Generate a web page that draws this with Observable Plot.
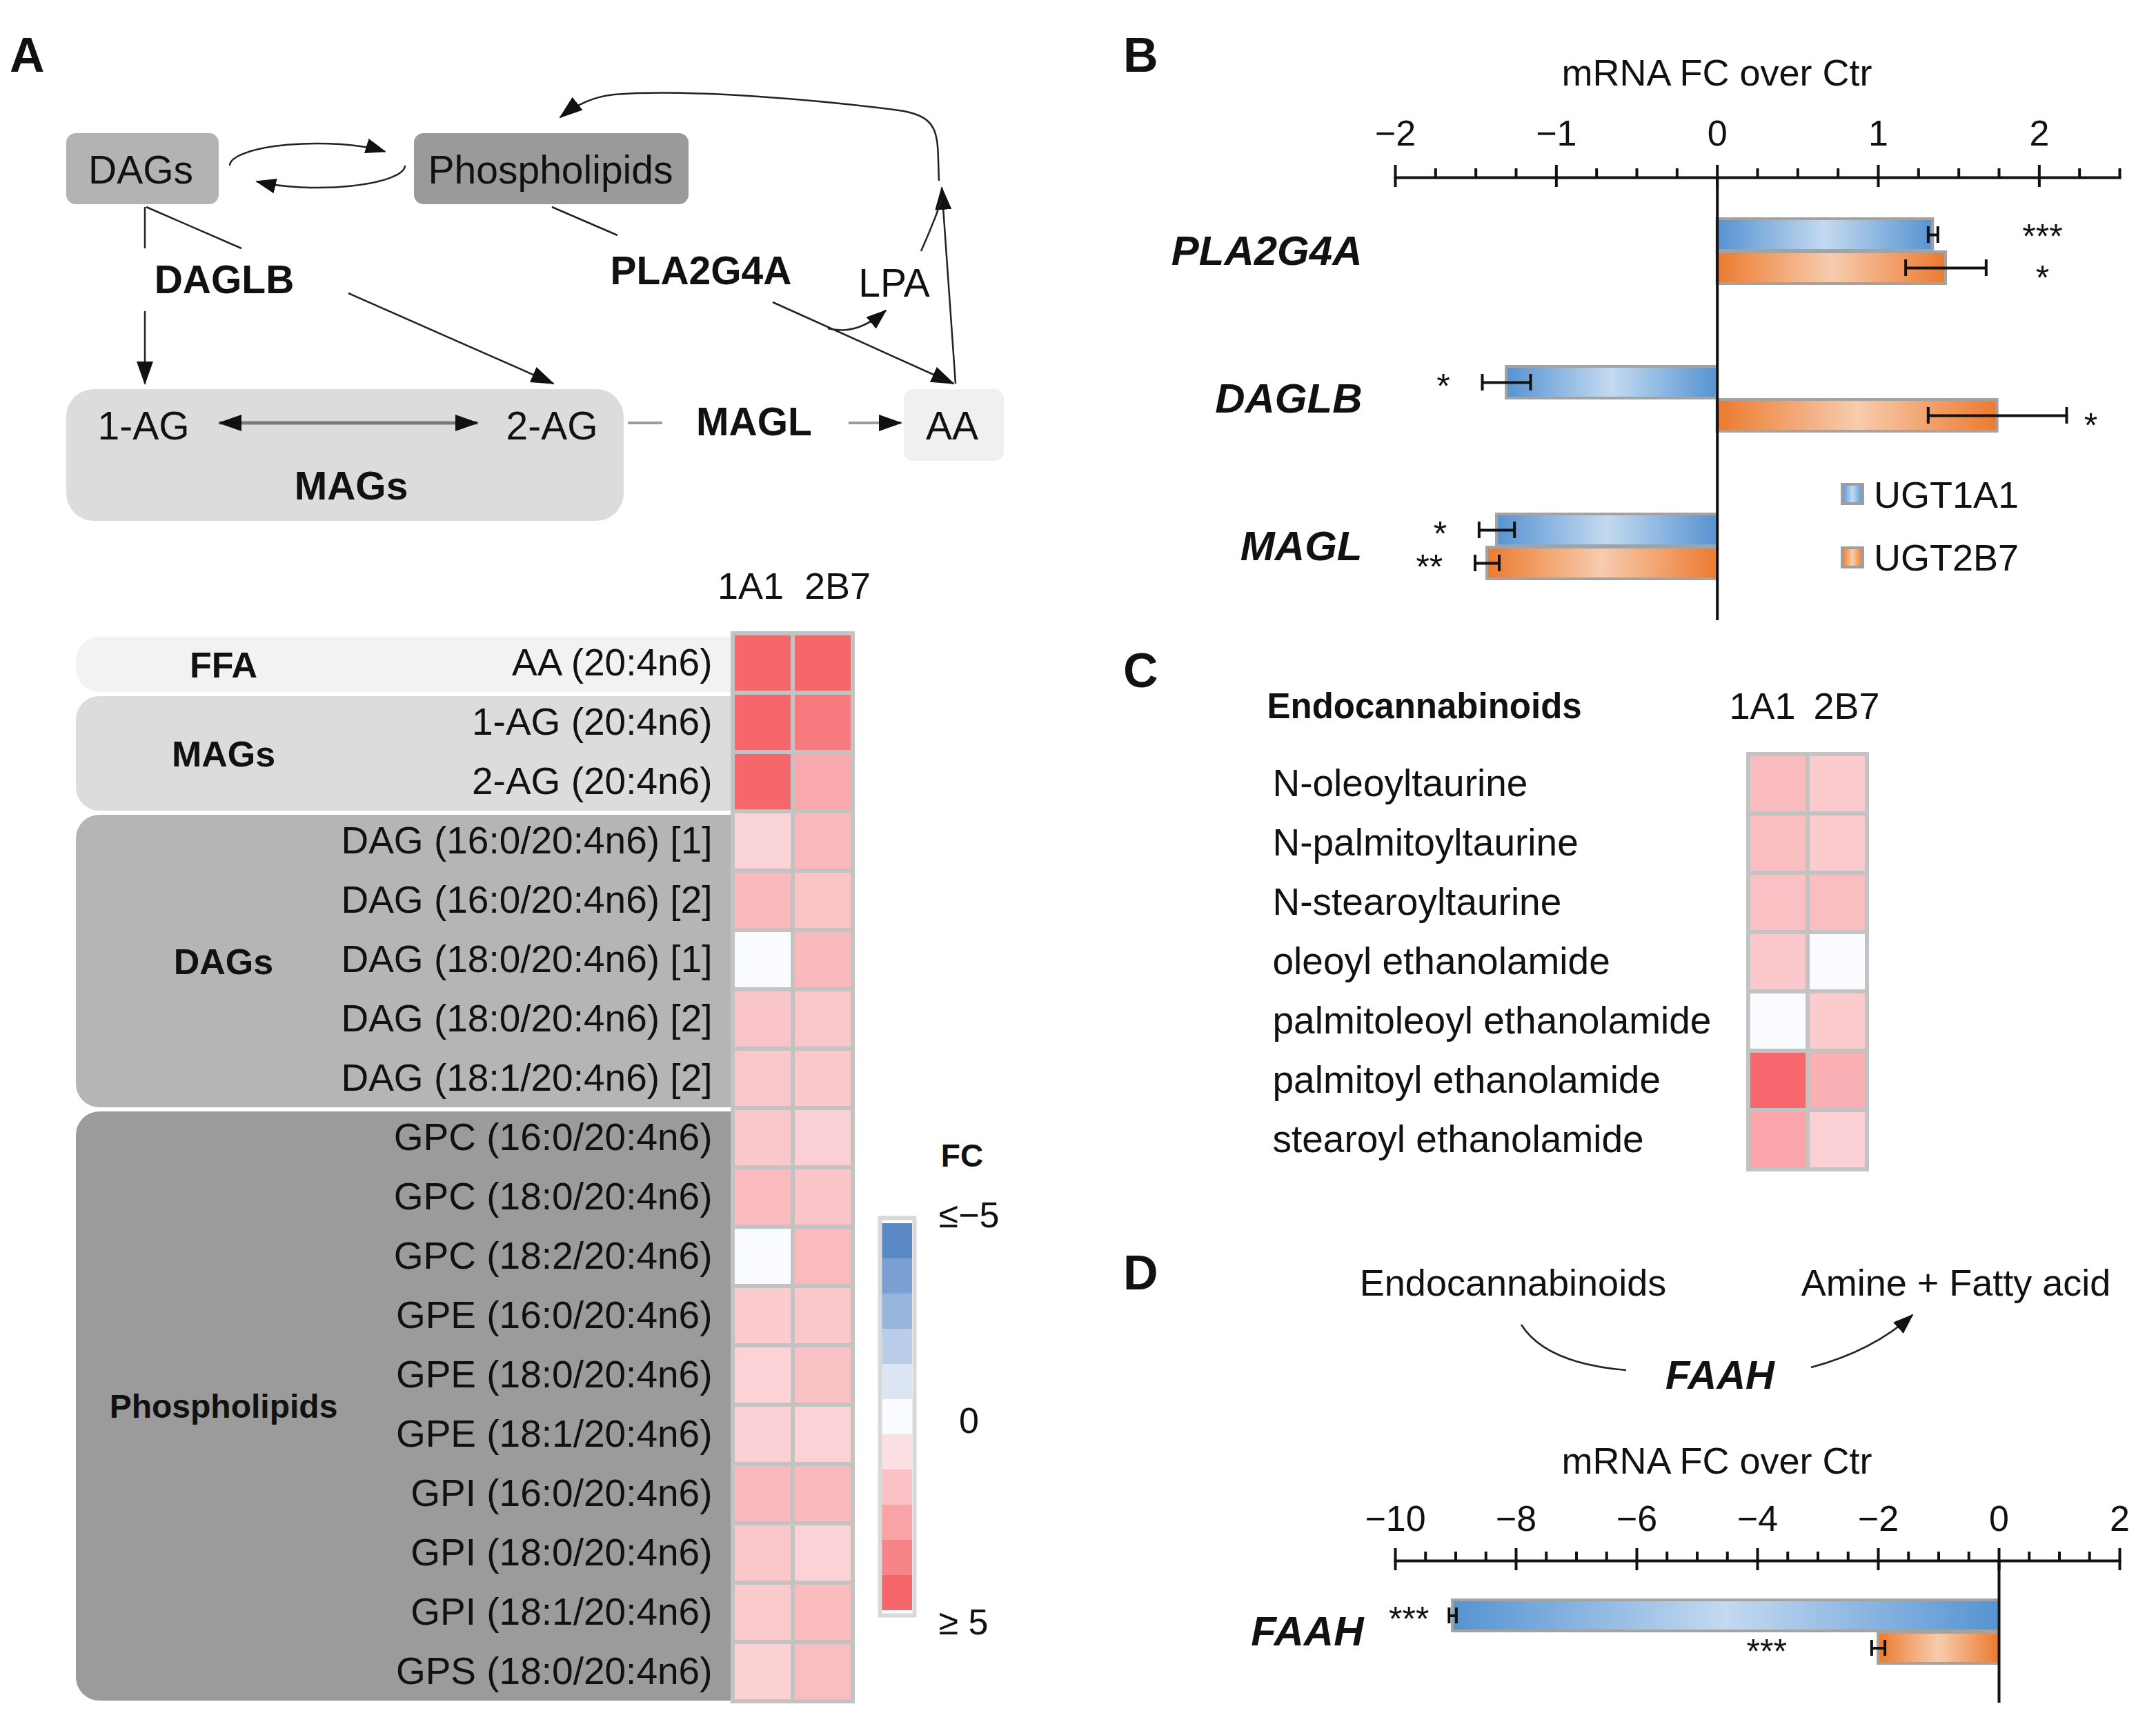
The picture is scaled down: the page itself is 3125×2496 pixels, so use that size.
<!DOCTYPE html>
<html>
<head>
<meta charset="utf-8">
<script src="https://cdn.jsdelivr.net/npm/d3@7"></script>
<script src="https://cdn.jsdelivr.net/npm/@observablehq/plot@0.6"></script>
<style>
  html, body { margin: 0; padding: 0; background: #ffffff; }
  #fig { position: relative; width: 3125px; height: 2496px; overflow: hidden;
         font-family: "Liberation Sans", Arial, Helvetica, sans-serif; color: #111; }
</style>
</head>
<body>
<div id="fig"></div>
<script>
// ---------------- DATA ----------------
const heatCols = ["1A1", "2B7"];
const lipidRows = [
  "AA (20:4n6)", "1-AG (20:4n6)", "2-AG (20:4n6)",
  "DAG (16:0/20:4n6) [1]", "DAG (16:0/20:4n6) [2]", "DAG (18:0/20:4n6) [1]",
  "DAG (18:0/20:4n6) [2]", "DAG (18:1/20:4n6) [2]",
  "GPC (16:0/20:4n6)", "GPC (18:0/20:4n6)", "GPC (18:2/20:4n6)",
  "GPE (16:0/20:4n6)", "GPE (18:0/20:4n6)", "GPE (18:1/20:4n6)",
  "GPI (16:0/20:4n6)", "GPI (18:0/20:4n6)", "GPI (18:1/20:4n6)",
  "GPS (18:0/20:4n6)"
];
const lipidGroups = [
  "FFA", "MAGs", "MAGs",
  "DAGs", "DAGs", "DAGs", "DAGs", "DAGs",
  "Phospholipids", "Phospholipids", "Phospholipids", "Phospholipids", "Phospholipids",
  "Phospholipids", "Phospholipids", "Phospholipids", "Phospholipids", "Phospholipids"
];
const lipid1A1 = [5, 5, 5, 1.37, 2.27, 0, 1.87, 1.77, 1.8, 2.2, 0, 1.67, 1.4, 1.5, 2.27, 1.8, 1.7, 1.47];
const lipid2B7 = [5, 4.34, 2.8, 2.27, 1.9, 2.23, 1.8, 1.77, 1.5, 1.83, 2.2, 1.77, 2.0, 1.43, 2.23, 1.43, 2.17, 2.1];

const ecbTitle = "Endocannabinoids";
const ecbRows = [
  "N-oleoyltaurine", "N-palmitoyltaurine", "N-stearoyltaurine", "oleoyl ethanolamide",
  "palmitoleoyl ethanolamide", "palmitoyl ethanolamide", "stearoyl ethanolamide"
];
const ecb1A1 = [2.17, 2.1, 2.03, 1.73, 0, 4.95, 2.93];
const ecb2B7 = [1.7, 1.67, 2.1, 0, 1.67, 2.6, 1.5];

const fcLegendTitle = "FC";
const fcLegendBins = [-5, -4, -3, -2, -1, 0, 1, 2, 3, 4, 5];
const fcLegendColors = ["#5a89c6", "#7a9fd1", "#98b5dc", "#b9cde8", "#dbe5f4", "#fafbfe",
                        "#fcdfe3", "#fac1c4", "#f9a3a7", "#f78489", "#f6676c"];
const fcLegendTickValues = [-5, 0, 5];
const fcLegendTickLabels = ["\u2264\u22125", "0", "\u2265 5"];

const seriesNames = ["UGT1A1", "UGT2B7"];
const axisTitle = "mRNA FC over Ctr";

const genesB = ["PLA2G4A", "DAGLB", "MAGL"];
const ugt1a1FcB = [1.34, -1.31, -1.37];
const ugt1a1ErrB = [0.03, 0.15, 0.11];
const ugt1a1SigB = ["***", "*", "*"];
const ugt2b7FcB = [1.42, 1.74, -1.43];
const ugt2b7ErrB = [0.25, 0.43, 0.075];
const ugt2b7SigB = ["*", "*", "**"];
const majorTicksB = [-2, -1, 0, 1, 2];

const genesD = ["FAAH"];
const ugt1a1FcD = [-9.05];
const ugt1a1ErrD = [0.06];
const ugt1a1SigD = ["***"];
const ugt2b7FcD = [-2.0];
const ugt2b7ErrD = [0.11];
const ugt2b7SigD = ["***"];
const majorTicksD = [-10, -8, -6, -4, -2, 0, 2];

// ---------------- HELPERS ----------------
const svgNS = "http://www.w3.org/2000/svg";
const fig = document.getElementById("fig");
const FONT = '"Liberation Sans", Arial, Helvetica, sans-serif';
const baseStyle = {fontFamily: FONT, fontSize: "54px", background: "transparent",
                   color: "#111", overflow: "visible", maxWidth: "none"};
function place(node, left, top) {
  node.style.position = "absolute";
  node.style.left = left + "px";
  node.style.top = top + "px";
  fig.appendChild(node);
}
const fmtMinus = d => d < 0 ? "\u2212" + (-d) : String(d);
const fcColor = {type: "linear", domain: fcLegendBins, range: fcLegendColors, clamp: true};

// ---------------- OVERLAY (panel letters, diagrams, legend B) ----------------
const overlay = document.createElementNS(svgNS, "svg");
overlay.setAttribute("width", 3125);
overlay.setAttribute("height", 2496);
overlay.setAttribute("font-family", FONT);
overlay.innerHTML = `
<defs>
  <linearGradient id="gBlue" x1="0" x2="1" y1="0" y2="0">
    <stop offset="0" stop-color="#5693d2"/><stop offset="0.5" stop-color="#c3daf0"/><stop offset="1" stop-color="#5693d2"/>
  </linearGradient>
  <linearGradient id="gOrange" x1="0" x2="1" y1="0" y2="0">
    <stop offset="0" stop-color="#ec7a2f"/><stop offset="0.5" stop-color="#f7ccae"/><stop offset="1" stop-color="#ec7a2f"/>
  </linearGradient>
  <marker id="ah" viewBox="0 0 34 24" markerWidth="34" markerHeight="24" refX="32" refY="12"
          orient="auto" markerUnits="userSpaceOnUse"><path d="M0,0 L34,12 L0,24 Z" fill="#111"/></marker>
  <marker id="ahs" viewBox="0 0 34 24" markerWidth="34" markerHeight="24" refX="32" refY="12"
          orient="auto-start-reverse" markerUnits="userSpaceOnUse"><path d="M0,0 L34,12 L0,24 Z" fill="#111"/></marker>
  <marker id="ahm" viewBox="0 0 30 22" markerWidth="30" markerHeight="22" refX="28" refY="11"
          orient="auto" markerUnits="userSpaceOnUse"><path d="M0,0 L30,11 L0,22 Z" fill="#111"/></marker>
</defs>
<g font-weight="bold" font-size="70" fill="#111">
  <text x="14" y="104">A</text>
  <text x="1628" y="104">B</text>
  <text x="1628" y="996">C</text>
  <text x="1628" y="1869">D</text>
</g>
<!-- Panel A pathway diagram -->
<rect x="96" y="193" width="221" height="103" rx="14" fill="#b3b3b3"/>
<rect x="600" y="193" width="398" height="103" rx="14" fill="#9a9a9a"/>
<rect x="96" y="564" width="808" height="191" rx="40" fill="#dcdcdc"/>
<rect x="1310" y="564" width="145" height="104" rx="14" fill="#f0f0f0"/>
<g font-size="57" text-anchor="middle" fill="#111">
  <text x="204" y="266">DAGs</text>
  <text x="798" y="266">Phospholipids</text>
  <text x="1296" y="430">LPA</text>
  <text x="208" y="637">1-AG</text>
  <text x="800" y="637">2-AG</text>
  <text x="1380" y="637">AA</text>
</g>
<g font-size="57" font-weight="bold" text-anchor="middle" fill="#111">
  <text x="325" y="425">DAGLB</text>
  <text x="1016" y="412">PLA2G4A</text>
  <text x="509" y="724">MAGs</text>
  <text x="1093" y="631">MAGL</text>
</g>
<g fill="none" stroke="#222" stroke-width="2.5">
  <path d="M333,240 A127,32 0 0 1 558,219.6" marker-end="url(#ahm)"/>
  <path d="M587,240 A127,32 0 0 1 372,263" marker-end="url(#ahm)"/>
  <path d="M210,300 L210,360"/>
  <path d="M212,300 L350,360"/>
  <path d="M210,451 L210,556" marker-end="url(#ah)"/>
  <path d="M505,425 L802,556" marker-end="url(#ah)"/>
  <path d="M800,300 L895,341"/>
  <path d="M1120,438 L1382,556" marker-end="url(#ah)"/>
  <path d="M1200,476 C1232,484 1258,472 1284,450" marker-end="url(#ahm)"/>
  <path d="M1385,556 L1365,272" marker-end="url(#ah)"/>
  <path d="M1335,364 C1350,330 1361,302 1364,290"/>
  <path d="M1361,262 C1358,200 1366,172 1310,161 C1200,146 1000,128 890,137 C860,140 836,151 812,170" marker-end="url(#ah)"/>
</g>
<path d="M318,613 L692,613" stroke="#7a7a7a" stroke-width="5" marker-start="url(#ahs)" marker-end="url(#ah)"/>
<path d="M910,613 L960,613" stroke="#9c9c9c" stroke-width="4"/>
<path d="M1230,613 L1306,613" stroke="#9c9c9c" stroke-width="4" marker-end="url(#ah)"/>
<!-- Panel D reaction diagram -->
<g font-size="54" text-anchor="middle" fill="#111">
  <text x="2193" y="1878">Endocannabinoids</text>
  <text x="2835" y="1878">Amine + Fatty acid</text>
</g>
<text x="2493" y="2013" font-size="58" font-weight="bold" font-style="italic" text-anchor="middle" fill="#111">FAAH</text>
<g fill="none" stroke="#222" stroke-width="2.5">
  <path d="M2205,1920 Q2240,1976 2357,1986"/>
  <path d="M2625,1982 Q2715,1958 2772,1906" marker-end="url(#ahm)"/>
</g>
<!-- Panel B legend -->
<rect x="2670" y="702" width="30" height="28" fill="url(#gBlue)" stroke="#9e9e9e" stroke-width="4"/>
<rect x="2670" y="794" width="30" height="28" fill="url(#gOrange)" stroke="#9e9e9e" stroke-width="4"/>
<g font-size="54" fill="#111">
  <text x="2716" y="736">${seriesNames[0]}</text>
  <text x="2716" y="827">${seriesNames[1]}</text>
</g>`;
place(overlay, 0, 0);

// ---------------- PANEL A HEATMAP ----------------
const groupFill = {FFA: "#f2f2f2", MAGs: "#dcdcdc", DAGs: "#b5b5b5", Phospholipids: "#9b9b9b"};
const groupFont = {FFA: 52, MAGs: 52, DAGs: 52, Phospholipids: 48};
const groupNames = Array.from(new Set(lipidGroups));
const cellsA = lipidRows.flatMap((row, i) => [
  {row, col: heatCols[0], fc: lipid1A1[i]},
  {row, col: heatCols[1], fc: lipid2B7[i]}
]);

function groupBands(index, scales, values, dims) {
  const g = document.createElementNS(svgNS, "g");
  const y = scales.y;
  const bw = y.bandwidth ? y.bandwidth() : (y(lipidRows[1]) - y(lipidRows[0]));
  const x0 = 110, x1 = dims.marginLeft + 12, r = 34;
  for (const name of groupNames) {
    const rs = lipidRows.filter((d, i) => lipidGroups[i] === name);
    const ya = y(rs[0]) + 5, yb = y(rs[rs.length - 1]) + bw - 1;
    const p = document.createElementNS(svgNS, "path");
    p.setAttribute("d", `M${x1},${ya}H${x0 + r}A${r},${r} 0 0 0 ${x0},${ya + r}V${yb - r}A${r},${r} 0 0 0 ${x0 + r},${yb}H${x1}Z`);
    p.setAttribute("fill", groupFill[name]);
    g.appendChild(p);
    const t = document.createElementNS(svgNS, "text");
    t.setAttribute("x", 324);
    t.setAttribute("y", (ya + yb) / 2);
    t.setAttribute("dy", "0.36em");
    t.setAttribute("text-anchor", "middle");
    t.setAttribute("font-weight", "bold");
    t.setAttribute("font-size", groupFont[name]);
    t.setAttribute("fill", "#111");
    t.textContent = name;
    g.appendChild(t);
  }
  return g;
}

const heatA = Plot.plot({
  width: 1262, height: 1696,
  marginLeft: 1062, marginRight: 26, marginTop: 118, marginBottom: 30,
  x: {domain: heatCols, padding: 0, axis: null},
  y: {domain: lipidRows, padding: 0},
  color: fcColor,
  style: baseStyle,
  marks: [
    groupBands,
    Plot.cell(cellsA, {x: "col", y: "row", fill: "fc", stroke: "#c3c3c3", strokeWidth: 6}),
    Plot.axisY({tickSize: 0, tickPadding: 30, fontSize: 55, label: null}),
    Plot.text([heatCols[0]], {x: d => d, text: d => d, frameAnchor: "top", dy: -68, lineAnchor: "middle",
                              textAnchor: "end", dx: 30, fontSize: 54}),
    Plot.text([heatCols[1]], {x: d => d, text: d => d, frameAnchor: "top", dy: -68, lineAnchor: "middle",
                              textAnchor: "start", dx: -27, fontSize: 54})
  ]
});
place(heatA, 0, 800);

// ---------------- PANEL A COLOR LEGEND ----------------
const legendA = Plot.plot({
  width: 260, height: 760,
  marginLeft: 28, marginRight: 188, marginTop: 128, marginBottom: 62,
  y: {domain: fcLegendBins, padding: 0, axis: null},
  color: fcColor,
  style: baseStyle,
  marks: [
    Plot.cell(fcLegendBins, {y: d => d, fill: d => d}),
    Plot.frame({stroke: "#d9d9d9", strokeWidth: 6, inset: -3}),
    Plot.text([fcLegendTitle], {text: d => d, frameAnchor: "top-left", textAnchor: "middle", dx: 116, dy: -92,
                                lineAnchor: "middle", fontWeight: "bold", fontSize: 46}),
    Plot.text([fcLegendTickLabels[0]], {text: d => d, frameAnchor: "top-left", textAnchor: "middle", dx: 126, dy: -6,
                                        lineAnchor: "middle", fontSize: 52}),
    Plot.text([fcLegendTickValues[1]], {y: d => d, text: () => fcLegendTickLabels[1], frameAnchor: "left",
                                        textAnchor: "middle", dx: 126, dy: 6, fontSize: 52}),
    Plot.text([fcLegendTickLabels[2]], {text: d => d, frameAnchor: "bottom-left", textAnchor: "middle", dx: 118, dy: 14,
                                        lineAnchor: "middle", fontSize: 52})
  ]
});
place(legendA, 1250, 1640);

// ---------------- PANEL C HEATMAP ----------------
const cellsC = ecbRows.flatMap((row, i) => [
  {row, col: heatCols[0], fc: ecb1A1[i]},
  {row, col: heatCols[1], fc: ecb2B7[i]}
]);
const heatC = Plot.plot({
  width: 1200, height: 760,
  marginLeft: 974, marginRight: 54, marginTop: 132, marginBottom: 24,
  x: {domain: heatCols, padding: 0, axis: null},
  y: {domain: ecbRows, padding: 0, axis: null},
  color: fcColor,
  style: baseStyle,
  marks: [
    Plot.cell(cellsC, {x: "col", y: "row", fill: "fc", stroke: "#c3c3c3", strokeWidth: 6}),
    Plot.text(ecbRows, {y: d => d, text: d => d, frameAnchor: "left", textAnchor: "start", dx: -690, fontSize: 55}),
    Plot.text([ecbTitle], {text: d => d, frameAnchor: "top-left", textAnchor: "start", dx: -698, dy: -68,
                           lineAnchor: "middle", fontWeight: "bold", fontSize: 51}),
    Plot.text([heatCols[0]], {x: d => d, text: d => d, frameAnchor: "top", dy: -68, lineAnchor: "middle",
                              textAnchor: "end", dx: 25, fontSize: 54}),
    Plot.text([heatCols[1]], {x: d => d, text: d => d, frameAnchor: "top", dy: -68, lineAnchor: "middle",
                              textAnchor: "start", dx: -35, fontSize: 54})
  ]
});
place(heatC, 1560, 960);

// ---------------- BAR PANELS (B, D) ----------------
function barPanel(cfg) {
  const rows = cfg.genes.flatMap((gene, i) => [
    {gene, series: seriesNames[0], fc: cfg.fc1[i], err: cfg.err1[i], sig: cfg.sig1[i]},
    {gene, series: seriesNames[1], fc: cfg.fc2[i], err: cfg.err2[i], sig: cfg.sig2[i]}
  ]);
  const minor = d3.range(cfg.domain[0], cfg.domain[1] + 1e-9, cfg.minorStep)
    .filter(v => !cfg.major.some(m => Math.abs(m - v) < 1e-9));
  const blue = rows.filter(d => d.series === seriesNames[0]);
  const orange = rows.filter(d => d.series === seriesNames[1]);
  return Plot.plot({
    width: 1565, height: cfg.height,
    marginLeft: 462, marginRight: 53, marginTop: cfg.marginTop, marginBottom: cfg.marginBottom,
    x: {domain: cfg.domain},
    y: {domain: seriesNames, paddingInner: 0.04, paddingOuter: cfg.padOuter, axis: null},
    fy: {domain: cfg.genes, padding: 0},
    style: baseStyle,
    marks: [
      Plot.frame({anchor: "top", facetAnchor: "top", strokeWidth: 4}),
      Plot.axisX({anchor: "top", ticks: cfg.major, tickSize: 19, tickPadding: cfg.tickPadding,
                  tickFormat: fmtMinus, fontSize: 52, strokeWidth: 4, label: null}),
      Plot.axisX({anchor: "top", ticks: cfg.major, tickSize: -13, fill: "none", strokeWidth: 4, label: null}),
      Plot.axisX({anchor: "top", ticks: minor, tickSize: 14, fill: "none", strokeWidth: 4, label: null}),
      Plot.axisFy({anchor: "left", tickSize: 0, tickPadding: cfg.fyPad, fontSize: 60,
                   fontWeight: "bold", fontStyle: "italic", label: null}),
      Plot.text([axisTitle], {text: d => d, frameAnchor: "top-left", facetAnchor: "top", textAnchor: "middle",
                              dx: 466, dy: cfg.titleDy, lineAnchor: "middle", fontSize: 54}),
      Plot.barX(blue, {x1: () => 0, x2: "fc", y: "series", fy: "gene", fill: "url(#gBlue)",
                       stroke: "#a3a3a3", strokeWidth: 4}),
      Plot.barX(orange, {x1: () => 0, x2: "fc", y: "series", fy: "gene", fill: "url(#gOrange)",
                         stroke: "#a3a3a3", strokeWidth: 4}),
      Plot.ruleX([0], {strokeWidth: 4}),
      Plot.ruleY(rows, {x1: d => d.fc - d.err, x2: d => d.fc + d.err, y: "series", fy: "gene", strokeWidth: 4}),
      Plot.tickX(rows, {x: d => d.fc - d.err, y: "series", fy: "gene", insetTop: 11, insetBottom: 11, strokeWidth: 4}),
      Plot.tickX(rows, {x: d => d.fc + d.err, y: "series", fy: "gene", insetTop: 11, insetBottom: 11, strokeWidth: 4}),
      ...cfg.stars(rows)
    ]
  });
}

const posStarX = d => Math.max(d.fc + d.err + 0.15, 2.02);
const panelB = barPanel({
  genes: genesB, fc1: ugt1a1FcB, err1: ugt1a1ErrB, sig1: ugt1a1SigB,
  fc2: ugt2b7FcB, err2: ugt2b7ErrB, sig2: ugt2b7SigB,
  domain: [-2, 2.5], major: majorTicksB, minorStep: 0.25,
  height: 914, marginTop: 257, marginBottom: 15, padOuter: 1.204,
  tickPadding: 28, fyPad: 48, titleDy: -151,
  stars: rows => [
    Plot.text(rows.filter(d => d.fc > 0 && d.series === seriesNames[0]),
              {x: posStarX, y: "series", fy: "gene", text: "sig", dy: 3, fontSize: 50}),
    Plot.text(rows.filter(d => d.fc > 0 && d.series === seriesNames[1]),
              {x: posStarX, y: "series", fy: "gene", text: "sig", dy: 15, fontSize: 50}),
    Plot.text(rows.filter(d => d.fc < 0), {x: d => d.fc - d.err - 0.2, y: "series", fy: "gene",
                                           text: "sig", textAnchor: "end", dy: 6, fontSize: 50})
  ]
});
place(panelB, 1560, 0);

const panelD = barPanel({
  genes: genesD, fc1: ugt1a1FcD, err1: ugt1a1ErrD, sig1: ugt1a1SigD,
  fc2: ugt2b7FcD, err2: ugt2b7ErrD, sig2: ugt2b7SigD,
  domain: [-10, 2], major: majorTicksD, minorStep: 0.5,
  height: 456, marginTop: 222, marginBottom: 28, padOuter: 1.166,
  tickPadding: 25, fyPad: 46, titleDy: -144,
  stars: rows => [
    Plot.text(rows.filter(d => d.series === seriesNames[0]), {x: d => d.fc - d.err, y: "series", fy: "gene",
              text: "sig", textAnchor: "end", dx: -29, dy: 6, fontSize: 50}),
    Plot.text(rows.filter(d => d.series === seriesNames[1]), {x: d => d.fc - d.err, y: "series", fy: "gene",
              text: "sig", textAnchor: "end", dx: -123, dy: 6, fontSize: 50})
  ]
});
place(panelD, 1560, 2040);
</script>
</body>
</html>
